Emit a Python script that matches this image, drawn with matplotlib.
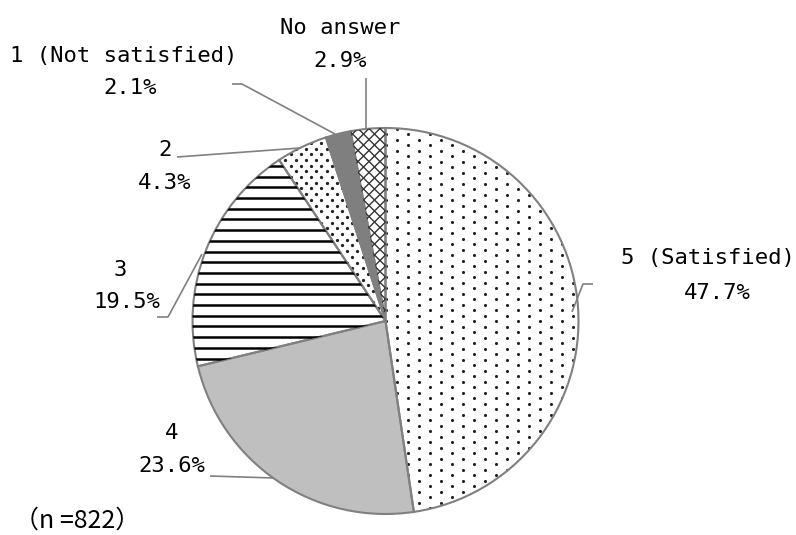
import matplotlib
matplotlib.use("Agg")
import matplotlib.pyplot as plt
import numpy as np
from matplotlib.collections import LineCollection

labels = ["5 (Satisfied)", "4", "3", "2", "1 (Not satisfied)", "No answer"]
values = [47.7, 23.6, 19.5, 4.3, 2.1, 2.9]
pct_labels = ["47.7%", "23.6%", "19.5%", "4.3%", "2.1%", "2.9%"]
n_label = "（n =822）"

colors = ["white", "#bfbfbf", "white", "white", "#7f7f7f", "white"]
textures = ["dots_sparse", None, "hlines", "dots_dense", None, "cross"]

W, H = 796, 535
fig = plt.figure(figsize=(W / 100, H / 100), dpi=100)
ax = fig.add_axes([0, 0, 1, 1])

cx, cy, R = 385.5, H - 321, 193

wedges, _ = ax.pie(values, colors=colors, startangle=90, counterclock=False,
                   center=(cx, cy), radius=R, frame=True,
                   wedgeprops=dict(linewidth=0))
ax.set_xlim(0, W)
ax.set_ylim(0, H)
ax.set_aspect("equal")
ax.axis("off")

x0, x1, y0, y1 = cx - R - 5, cx + R + 5, cy - R - 5, cy + R + 5


def dot_grid(dx, dy):
    pts = []
    rows = np.arange(y0, y1, dy)
    for i, yy in enumerate(rows):
        off = (dx / 2) if i % 2 else 0
        xs = np.arange(x0 + off, x1, dx)
        pts.append(np.column_stack([xs, np.full_like(xs, yy)]))
    return np.vstack(pts)


for w, tex in zip(wedges, textures):
    if tex is None:
        continue
    if tex == "dots_sparse":
        p = dot_grid(22, 5.5)
        sc = ax.scatter(p[:, 0], p[:, 1], s=5.0, color="#222222", linewidths=0)
        sc.set_clip_path(w)
    elif tex == "dots_dense":
        p = dot_grid(10.3, 5.7)
        sc = ax.scatter(p[:, 0], p[:, 1], s=5.5, color="#222222", linewidths=0)
        sc.set_clip_path(w)
    elif tex == "hlines":
        ys = np.arange(y0, y1, 10.7)
        segs = [[(x0, yy), (x1, yy)] for yy in ys]
        lc = LineCollection(segs, colors="black", linewidths=1.8)
        ax.add_collection(lc)
        lc.set_clip_path(w)
    elif tex == "cross":
        sp = 11.0
        L = x1 - x0 + y1 - y0
        segs = []
        for c in np.arange(-L, L, sp):
            segs.append([(x0 + c, y0), (x0 + c + L, y0 + L)])
            segs.append([(x0 + c, y0), (x0 + c - L, y0 + L)])
        lc = LineCollection(segs, colors="#333333", linewidths=1.0)
        ax.add_collection(lc)
        lc.set_clip_path(w)

# outline layer
ax.pie(values, colors=["none"] * len(values), startangle=90,
       counterclock=False, center=(cx, cy), radius=R, frame=True,
       wedgeprops=dict(linewidth=1.5, edgecolor="#808080", fill=False))
ax.set_xlim(0, W)
ax.set_ylim(0, H)
ax.axis("off")

font = dict(family=["DejaVu Sans Mono"], fontsize=16, color="black",
            ha="center", va="center")


def y(py):
    return H - py


lab_pos = [(708, 258), (172, 433), (120, 270), (165, 150), (124, 56), (340, 28)]
pct_pos = [(717, 293), (172, 466), (127, 302), (165, 183), (130, 88), (340, 61)]
for t, (px, py) in zip(labels, lab_pos):
    ax.text(px, y(py), t, **font)
for t, (px, py) in zip(pct_labels, pct_pos):
    ax.text(px, y(py), t, **font)

leaders = [
    [(593, 284), (583, 284), (572, 312)],
    [(210, 476), (274, 478)],
    [(157, 317), (168, 317), (202, 254)],
    [(177, 157), (300, 148)],
    [(232, 84), (242, 84), (335, 134)],
    [(366, 78), (366, 130)],
]
for pts in leaders:
    xs = [p[0] for p in pts]
    ys = [y(p[1]) for p in pts]
    ax.plot(xs, ys, color="#808080", lw=1.2, solid_capstyle="butt")

ax.text(77, y(521), n_label, family=["Noto Sans CJK JP", "DejaVu Sans"],
        fontsize=18, ha="center", va="center")

fig.savefig("out.png", dpi=100)
